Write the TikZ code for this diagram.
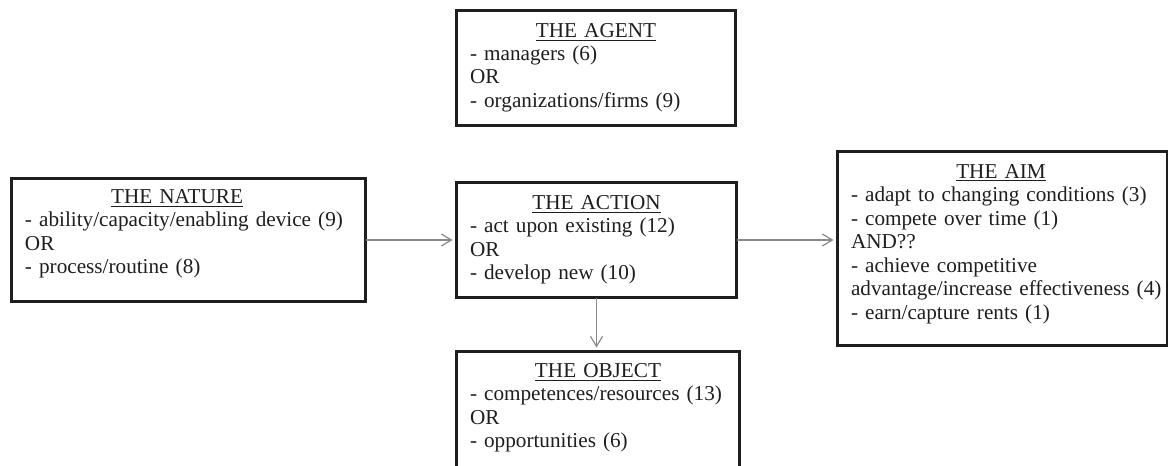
\documentclass[tikz,border=0pt]{standalone}
\usepackage{fontspec}
\setmainfont{Liberation Serif}
\usetikzlibrary{arrows.meta}
\definecolor{boxline}{HTML}{1E1E1E}
\definecolor{linkgray}{HTML}{8A8A8A}
\tikzset{
	box/.style={draw=boxline, line width=1.5pt, inner sep=0pt, outer sep=0pt, anchor=north west},
	boxtext/.style={anchor=base west, inner sep=0pt, outer sep=0pt, align=left, text=boxline,
		font=\fontsize{10.6}{11.75}\selectfont},
	link/.style={draw=linkgray, line width=0.6pt, shorten >=2pt, -{Straight Barb[length=5pt,width=6pt]}}
}
\newcommand{\boxhead}[2][\linewidth]{\makebox[#1]{\underline{#2}}}
\begin{document}
\begin{tikzpicture}[x=0.5pt,y=-0.5pt]
			\useasboundingbox (0,0) rectangle (1168,466);
			\clip (0,0) rectangle (1168,466);
			% the boxes
			\node[box, minimum width=139.5pt, minimum height=57.5pt] (agent) at (456.5,10.5) {};
			\node[box, minimum width=177pt, minimum height=61.5pt] (nature) at (11.5,178.5) {};
			\node[box, minimum width=140pt, minimum height=57.5pt] (action) at (456.5,182.5) {};
			\node[box, minimum width=165pt, minimum height=97pt] (aim) at (837.5,151.5) {};
			\node[box, minimum width=141.5pt, minimum height=75pt] (object) at (456.5,351.5) {};
			% the texts
			\node[boxtext, text width=126pt] (agenttxt) at ([shift={(13.5,26.5)}]agent.north west)
				{\boxhead{THE AGENT}\\- managers (6)\\OR\\- organizations/firms (9)};
			\node[boxtext, text width=163.5pt] (naturetxt) at ([shift={(13.5,24.5)}]nature.north west)
				{\boxhead[152pt]{THE NATURE}\\- ability/capacity/enabling device (9)\\OR\\- process/routine (8)};
			\node[boxtext, text width=126.5pt] (actiontxt) at ([shift={(13.5,26.5)}]action.north west)
				{\boxhead{THE ACTION}\\- act upon existing (12)\\OR\\- develop new (10)};
			\node[boxtext, text width=162pt] (aimtxt) at ([shift={(13.5,26.5)}]aim.north west)
				{\boxhead[150pt]{THE AIM}\\- adapt to changing conditions (3)\\- compete over time (1)\\AND??\\- achieve competitive\\advantage/increase effectiveness (4)\\- earn/capture rents (1)};
			\node[boxtext, text width=128pt] (objecttxt) at ([shift={(13.5,25.5)}]object.north west)
				{\boxhead{THE OBJECT}\\- competences/resources (13)\\OR\\- opportunities (6)};
			% the arrows
			\draw[link](nature)--(action);
			\draw[link](action.east)--(action.east -| aim.west);
			\draw[link](action.south)--(action.south |- object.north);
			\end{tikzpicture}
\end{document}
